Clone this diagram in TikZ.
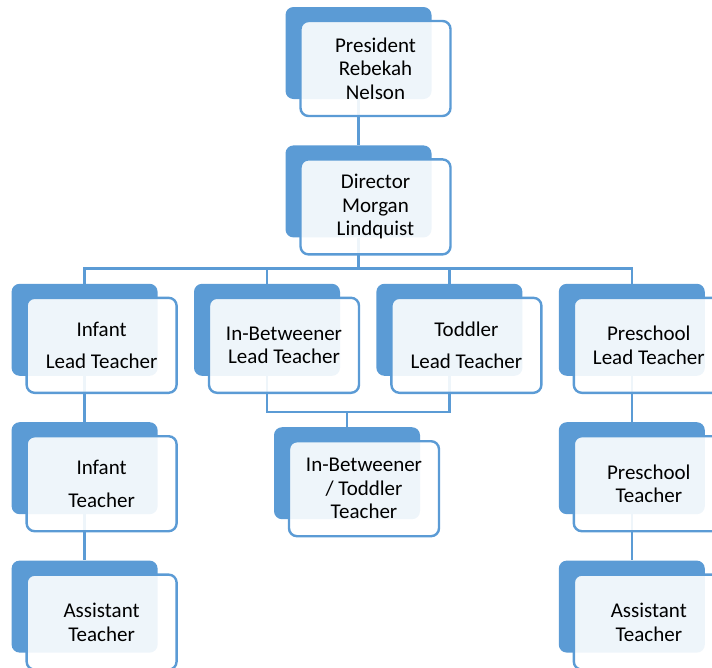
\documentclass[tikz,border=0pt]{standalone}
\usepackage{fontspec}
\setmainfont{Carlito}
\usetikzlibrary{positioning, backgrounds}

\definecolor{orgblue}{HTML}{5B9BD5}

\begin{document}
\begin{tikzpicture}[
        x=1pt, y=1pt,
        node distance=46pt,
        every node/.style={font=\fontsize{21}{23.5}\selectfont},
        backcard/.style={rectangle, rounded corners=8pt, fill=orgblue, minimum width=146pt, minimum height=92pt, inner sep=0pt},
        frontcard/.style={draw=orgblue, line width=2.4pt, rectangle, rounded corners=8pt, fill=white, fill opacity=0.9, text opacity=1, minimum width=150pt, minimum height=95pt, inner sep=2pt, align=center, shift={(17pt,-15.5pt)}},
        loose/.style={font=\fontsize{21}{32.5}\selectfont},
        link/.style={draw=orgblue, line width=2.6pt}
    ]
        \useasboundingbox (0,0) rectangle (712,-667);

        % Vertici
        \node [backcard] (pres) at (358.5,-53) {};
        \node [frontcard] (presF) at (pres) {President\\Rebekah\\Nelson};

        \node [backcard, below=of pres] (dir) {};
        \node [frontcard] (dirF) at (dir) {Director\\Morgan\\Lindquist};

        % Capi
        \node [backcard, below=of dir, xshift=-91.5pt] (inbLead) {};
        \node [frontcard] (inbLeadF) at (inbLead) {In-Betweener\\Lead Teacher};

        \node [backcard, left=36pt of inbLead] (infLead) {};
        \node [frontcard, loose] (infLeadF) at (infLead) {Infant\\Lead Teacher};

        \node [backcard, right=36pt of inbLead] (todLead) {};
        \node [frontcard, loose] (todLeadF) at (todLead) {Toddler\\Lead Teacher};

        \node [backcard, right=36pt of todLead] (preLead) {};
        \node [frontcard] (preLeadF) at (preLead) {Preschool\\Lead Teacher};

        % Insegnanti
        \node [backcard, below=of infLead] (infTeach) {};
        \node [frontcard, loose] (infTeachF) at (infTeach) {Infant\\Teacher};

        \node [backcard, below=51pt of inbLead, xshift=80pt] (ibtTeach) {};
        \node [frontcard] (ibtTeachF) at (ibtTeach) {In-Betweener\\/ Toddler\\Teacher};

        \node [backcard, below=of preLead] (preTeach) {};
        \node [frontcard] (preTeachF) at (preTeach) {Preschool\\Teacher};

        \node [backcard, below=of infTeach] (infAsst) {};
        \node [frontcard] (infAsstF) at (infAsst) {Assistant\\Teacher};

        \node [backcard, below=of preTeach] (preAsst) {};
        \node [frontcard] (preAsstF) at (preAsst) {Assistant\\Teacher};

        % Collegamenti
        \coordinate (bus) at ([yshift=15pt]infLead.north);
        \coordinate (join) at ([yshift=15pt]ibtTeach.north);
        \begin{scope}[on background layer]
            \draw [link] (pres) -- (dir);
            \draw [link] (dir) -- (dir |- bus);
            \draw [link] (infLead) -- (bus) -| (preLead);
            \draw [link] (inbLead) -- (inbLead |- bus);
            \draw [link] (todLead) -- (todLead |- bus);
            \draw [link] (inbLead) |- (join) -| (todLead);
            \draw [link] (ibtTeach) -- (join);
            \draw [link] (infLead) -- (infTeach) -- (infAsst);
            \draw [link] (preLead) -- (preTeach) -- (preAsst);
        \end{scope}
    \end{tikzpicture}
\end{document}
